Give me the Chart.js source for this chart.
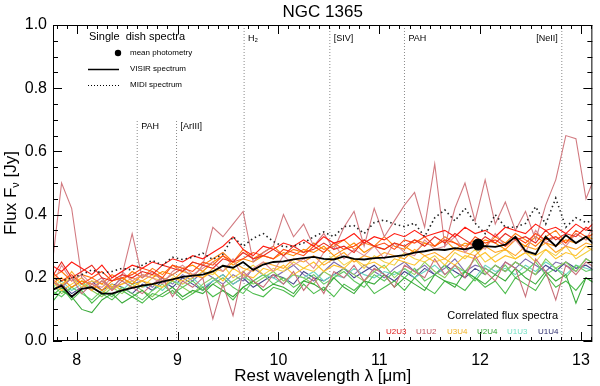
<!DOCTYPE html>
<html><head><meta charset="utf-8">
<script src="https://cdn.jsdelivr.net/npm/chart.js@4/dist/chart.umd.min.js"></script>
<style>html,body{margin:0;padding:0;background:#fff}#wrap{width:600px;height:386px}</style>
</head><body><div id="wrap"><canvas id="c" width="600" height="386"></canvas></div>
<script>
const lambda = [7.75,7.85,7.95,8.05,8.15,8.25,8.35,8.45,8.55,8.65,8.75,8.85,8.95,9.05,9.15,9.25,9.35,9.45,9.55,9.65,9.75,9.85,9.95,10.05,10.15,10.25,10.35,10.45,10.55,10.65,10.75,10.85,10.95,11.05,11.15,11.25,11.35,11.45,11.55,11.65,11.75,11.85,11.95,12.05,12.15,12.25,12.35,12.45,12.55,12.65,12.75,12.85,12.95,13.05,13.15];

const visir = [0.16,0.175,0.14,0.165,0.17,0.15,0.15,0.16,0.168,0.175,0.18,0.188,0.195,0.203,0.207,0.21,0.22,0.238,0.232,0.25,0.225,0.242,0.25,0.252,0.258,0.262,0.266,0.26,0.258,0.268,0.26,0.258,0.262,0.264,0.268,0.272,0.28,0.284,0.29,0.288,0.294,0.29,0.298,0.30,0.298,0.305,0.33,0.285,0.275,0.33,0.30,0.335,0.31,0.33,0.30];
const midi = [0.20,0.19,0.20,0.21,0.225,0.215,0.22,0.23,0.225,0.24,0.255,0.24,0.265,0.258,0.265,0.278,0.258,0.275,0.33,0.30,0.325,0.34,0.315,0.298,0.30,0.31,0.33,0.345,0.33,0.362,0.365,0.34,0.375,0.383,0.37,0.362,0.373,0.33,0.39,0.415,0.38,0.42,0.373,0.34,0.40,0.36,0.36,0.372,0.425,0.37,0.452,0.36,0.39,0.375,0.385];
const photLambda = [11.98];
const photFlux = [0.305];

const u2u3a = [0.24,0.22,0.25,0.23,0.21,0.24,0.2,0.22,0.24,0.23,0.25,0.24,0.26,0.25,0.27,0.26,0.28,0.3,0.33,0.29,0.27,0.3,0.29,0.31,0.3,0.32,0.3,0.33,0.31,0.32,0.34,0.31,0.33,0.32,0.34,0.33,0.35,0.33,0.34,0.35,0.33,0.36,0.34,0.35,0.33,0.36,0.35,0.34,0.37,0.35,0.36,0.34,0.37,0.35,0.38];
const u2u3b = [0.2,0.25,0.2,0.22,0.24,0.2,0.19,0.21,0.2,0.22,0.21,0.24,0.23,0.22,0.25,0.24,0.23,0.26,0.25,0.28,0.26,0.27,0.29,0.27,0.3,0.28,0.29,0.31,0.29,0.3,0.28,0.32,0.3,0.29,0.31,0.3,0.32,0.3,0.33,0.31,0.34,0.32,0.3,0.33,0.31,0.34,0.32,0.33,0.31,0.35,0.32,0.34,0.33,0.36,0.34];
const u2u3c = [0.22,0.19,0.21,0.18,0.2,0.22,0.19,0.2,0.21,0.23,0.22,0.2,0.24,0.23,0.22,0.25,0.24,0.27,0.25,0.26,0.28,0.27,0.26,0.29,0.28,0.27,0.3,0.28,0.31,0.29,0.3,0.32,0.3,0.31,0.29,0.32,0.31,0.33,0.3,0.32,0.31,0.29,0.33,0.31,0.32,0.3,0.33,0.31,0.34,0.32,0.33,0.31,0.35,0.33,0.34];
const u1u2a = [0.22,0.50,0.42,0.2,0.17,0.19,0.16,0.21,0.34,0.2,0.22,0.19,0.21,0.23,0.2,0.24,0.36,0.33,0.37,0.41,0.25,0.28,0.3,0.4,0.33,0.37,0.3,0.34,0.29,0.36,0.41,0.3,0.42,0.33,0.38,0.43,0.47,0.36,0.56,0.3,0.42,0.5,0.38,0.51,0.37,0.44,0.35,0.41,0.32,0.43,0.51,0.65,0.64,0.45,0.53];
const u1u2b = [0.19,0.17,0.2,0.15,0.18,0.2,0.16,0.19,0.17,0.15,0.18,0.2,0.14,0.19,0.17,0.2,0.07,0.18,0.08,0.22,0.19,0.17,0.21,0.18,0.22,0.16,0.2,0.15,0.22,0.2,0.24,0.19,0.23,0.21,0.17,0.24,0.22,0.2,0.26,0.21,0.24,0.2,0.27,0.22,0.19,0.25,0.23,0.14,0.26,0.22,0.13,0.24,0.21,0.25,0.23];
const u1u2c = [0.17,0.24,0.19,0.21,0.18,0.17,0.2,0.22,0.19,0.21,0.2,0.18,0.22,0.24,0.21,0.23,0.25,0.22,0.26,0.2,0.23,0.25,0.22,0.27,0.24,0.26,0.23,0.28,0.31,0.26,0.29,0.27,0.3,0.26,0.31,0.28,0.27,0.32,0.29,0.3,0.33,0.28,0.31,0.29,0.34,0.3,0.32,0.28,0.35,0.31,0.33,0.3,0.34,0.32,0.38];
const u3u4a = [0.18,0.2,0.17,0.19,0.18,0.16,0.19,0.2,0.18,0.21,0.2,0.22,0.21,0.23,0.24,0.22,0.25,0.27,0.24,0.26,0.25,0.27,0.26,0.28,0.27,0.29,0.28,0.3,0.27,0.29,0.31,0.28,0.3,0.29,0.31,0.3,0.28,0.31,0.3,0.32,0.29,0.31,0.3,0.32,0.31,0.29,0.32,0.3,0.33,0.31,0.3,0.32,0.31,0.33,0.32];
const u3u4b = [0.2,0.17,0.22,0.18,0.16,0.19,0.17,0.18,0.2,0.19,0.21,0.2,0.19,0.22,0.21,0.2,0.23,0.22,0.25,0.23,0.22,0.25,0.24,0.23,0.26,0.25,0.27,0.24,0.26,0.28,0.25,0.27,0.26,0.28,0.27,0.26,0.29,0.27,0.28,0.26,0.29,0.28,0.27,0.3,0.28,0.29,0.27,0.3,0.29,0.31,0.28,0.3,0.29,0.31,0.3];
const u3u4c = [0.19,0.16,0.18,0.2,0.17,0.15,0.18,0.16,0.17,0.19,0.18,0.17,0.2,0.19,0.21,0.2,0.22,0.19,0.23,0.21,0.2,0.23,0.22,0.24,0.21,0.23,0.25,0.22,0.24,0.23,0.26,0.24,0.25,0.23,0.26,0.25,0.24,0.27,0.25,0.26,0.24,0.27,0.26,0.28,0.25,0.27,0.26,0.28,0.27,0.29,0.26,0.28,0.27,0.3,0.28];
const u3u4d = [0.21,0.18,0.2,0.17,0.19,0.18,0.16,0.18,0.19,0.17,0.2,0.19,0.21,0.18,0.2,0.22,0.21,0.24,0.2,0.22,0.24,0.21,0.23,0.22,0.25,0.23,0.22,0.25,0.27,0.24,0.26,0.23,0.27,0.25,0.24,0.28,0.26,0.25,0.27,0.24,0.28,0.26,0.29,0.25,0.27,0.29,0.26,0.28,0.25,0.29,0.27,0.3,0.26,0.28,0.3];
const u3u4e = [0.2,0.22,0.19,0.21,0.2,0.18,0.21,0.19,0.22,0.2,0.23,0.21,0.24,0.22,0.25,0.24,0.26,0.28,0.25,0.29,0.26,0.28,0.3,0.27,0.29,0.28,0.31,0.29,0.3,0.32,0.29,0.31,0.3,0.33,0.3,0.29,0.32,0.31,0.3,0.33,0.31,0.3,0.32,0.3,0.33,0.31,0.34,0.32,0.3,0.33,0.35,0.31,0.34,0.32,0.35];
const u2u4a = [0.12,0.16,0.14,0.1,0.09,0.13,0.15,0.12,0.14,0.16,0.13,0.15,0.17,0.14,0.16,0.15,0.18,0.16,0.14,0.17,0.19,0.16,0.18,0.17,0.15,0.19,0.18,0.16,0.2,0.17,0.15,0.19,0.18,0.21,0.17,0.2,0.18,0.16,0.21,0.19,0.17,0.22,0.2,0.18,0.21,0.19,0.23,0.2,0.18,0.22,0.19,0.21,0.12,0.2,0.18];
const u2u4b = [0.16,0.14,0.17,0.15,0.13,0.16,0.14,0.17,0.15,0.13,0.16,0.18,0.15,0.17,0.19,0.16,0.18,0.2,0.17,0.15,0.19,0.21,0.18,0.2,0.17,0.19,0.21,0.18,0.2,0.22,0.19,0.17,0.21,0.19,0.22,0.2,0.23,0.19,0.21,0.24,0.2,0.22,0.19,0.23,0.21,0.24,0.2,0.22,0.25,0.21,0.23,0.2,0.24,0.22,0.23];
const u2u4c = [0.18,0.15,0.17,0.19,0.16,0.14,0.17,0.15,0.18,0.16,0.14,0.17,0.19,0.17,0.15,0.18,0.2,0.17,0.19,0.21,0.18,0.2,0.22,0.19,0.21,0.2,0.18,0.22,0.2,0.23,0.21,0.19,0.22,0.24,0.2,0.23,0.21,0.25,0.22,0.2,0.24,0.22,0.26,0.21,0.24,0.22,0.25,0.23,0.21,0.26,0.23,0.25,0.22,0.26,0.24];
const u2u4d = [0.14,0.17,0.13,0.16,0.12,0.15,0.13,0.16,0.14,0.12,0.15,0.14,0.16,0.13,0.15,0.17,0.14,0.16,0.13,0.17,0.15,0.14,0.17,0.16,0.14,0.18,0.15,0.17,0.14,0.18,0.16,0.19,0.15,0.17,0.19,0.16,0.2,0.17,0.15,0.19,0.18,0.16,0.2,0.17,0.19,0.15,0.2,0.18,0.16,0.21,0.17,0.19,0.16,0.2,0.18];
const u1u3a = [0.17,0.19,0.16,0.18,0.17,0.15,0.18,0.16,0.19,0.17,0.18,0.16,0.19,0.18,0.2,0.17,0.19,0.21,0.18,0.2,0.19,0.21,0.2,0.18,0.21,0.2,0.22,0.19,0.21,0.2,0.23,0.21,0.2,0.22,0.21,0.23,0.2,0.22,0.24,0.21,0.23,0.22,0.2,0.24,0.22,0.23,0.21,0.24,0.22,0.25,0.23,0.21,0.24,0.23,0.22];
const u1u4a = [0.16,0.18,0.15,0.17,0.19,0.16,0.18,0.17,0.15,0.18,0.16,0.19,0.17,0.2,0.18,0.16,0.19,0.21,0.18,0.2,0.17,0.19,0.21,0.2,0.18,0.22,0.2,0.19,0.21,0.23,0.2,0.22,0.24,0.21,0.19,0.22,0.2,0.23,0.21,0.24,0.22,0.2,0.23,0.21,0.24,0.22,0.25,0.23,0.21,0.24,0.22,0.25,0.23,0.24,0.22];
const u1u4b = [0.19,0.17,0.2,0.18,0.16,0.19,0.17,0.2,0.18,0.19,0.17,0.2,0.18,0.21,0.19,0.22,0.2,0.18,0.21,0.19,0.23,0.21,0.2,0.22,0.24,0.21,0.19,0.22,0.25,0.23,0.21,0.24,0.22,0.2,0.23,0.25,0.22,0.24,0.21,0.23,0.26,0.22,0.24,0.23,0.21,0.25,0.23,0.26,0.24,0.22,0.25,0.24,0.22,0.26,0.24];

const lineWaves = [8.6, 8.99, 9.66, 10.51, 11.25, 12.81];
const lineNames = ['PAH', '[ArIII]', 'H\u2082', '[SIV]', 'PAH', '[NeII]'];
const lineTops = [0.70, 0.70, 1.0, 1.0, 1.0, 1.0];

const xTicks = [8, 9, 10, 11, 12, 13];
const yTicks = [0.0, 0.2, 0.4, 0.6, 0.8, 1.0];
const baselineNames = ['U2U3', 'U1U2', 'U3U4', 'U2U4', 'U1U3', 'U1U4'];
const baselineColors = ['#dd1515', '#c2525c', '#f0b020', '#2fa02f', '#72e0c4', '#2e2e6e'];

const FONT = '"Liberation Sans", Arial, Helvetica, sans-serif';

function pts(vals) { return lambda.map((x, i) => ({x: x, y: vals[i]})); }
function corr(vals, color) {
  return {data: pts(vals), borderColor: color, borderWidth: 1.1, pointRadius: 0, fill: false, tension: 0};
}

const datasets = [];
datasets.push({data: photLambda.map((x, i) => ({x: x, y: photFlux[i]})), showLine: false, pointRadius: 5.5, pointBackgroundColor: '#000', pointBorderColor: '#000', borderColor: '#000'});
datasets.push({data: pts(visir), borderColor: '#000', borderWidth: 1.8, pointRadius: 0, tension: 0});
datasets.push({data: pts(midi), borderColor: '#222', borderWidth: 1.6, borderDash: [1.5, 3], pointRadius: 0, tension: 0});
[
  [u2u3a, '#ff1a10'], [u2u3b, '#e82a20'], [u2u3c, '#ff4a15'],
  [u1u2a, '#d27a80'], [u1u2b, '#c8707a'], [u1u2c, '#e08e94'],
  [u3u4a, '#ff8c00'], [u3u4e, '#ff7a10'], [u3u4b, '#ffa526'], [u3u4c, '#ffc22a'], [u3u4d, '#f2cf45'],
  [u2u4a, '#3aaa3a'], [u2u4d, '#4cbc4c'], [u2u4b, '#62c862'], [u2u4c, '#8ccf5c'],
  [u1u3a, '#6ad6c0'], [u1u4a, '#45458a'], [u1u4b, '#7e6cae']
].forEach(p => datasets.push(corr(p[0], p[1])));
lineWaves.forEach((w, i) => datasets.push({data: [{x: w, y: 0}, {x: w, y: lineTops[i]}], borderColor: '#8a8a8a', borderWidth: 1, borderDash: [1, 2], pointRadius: 0}));

const deco = {
  id: 'deco',
  afterDraw(chart) {
    const ctx = chart.ctx, a = chart.chartArea;
    const xs = chart.scales.x, ys = chart.scales.y;
    ctx.save();
    ctx.strokeStyle = '#000'; ctx.lineWidth = 1;
    ctx.strokeRect(a.left + 0.5, a.top + 0.5, a.right - a.left - 1, a.bottom - a.top - 1);
    ctx.beginPath();
    for (let k = 78; k <= 131; k++) {
      const v = k / 10;
      if (v < xs.min || v > xs.max) continue;
      const px = Math.round(xs.getPixelForValue(v)) + 0.5;
      const L = (k % 10 === 0) ? 9 : 4;
      ctx.moveTo(px, a.bottom); ctx.lineTo(px, a.bottom - L);
      ctx.moveTo(px, a.top); ctx.lineTo(px, a.top + L);
    }
    for (let k = 0; k <= 20; k++) {
      const v = k / 20;
      const py = Math.round(ys.getPixelForValue(v)) + 0.5;
      const L = (k % 4 === 0) ? 9 : 5;
      ctx.moveTo(a.left, py); ctx.lineTo(a.left + L, py);
      ctx.moveTo(a.right, py); ctx.lineTo(a.right - L, py);
    }
    ctx.stroke();

    ctx.fillStyle = '#000';
    ctx.font = '17px ' + FONT;
    ctx.textAlign = 'center'; ctx.textBaseline = 'middle';
    ctx.fillText('NGC 1365', (a.left + a.right) / 2, 12);

    ctx.font = '17px ' + FONT;
    ctx.fillText('Rest wavelength \u03BB [\u03BCm]', (a.left + a.right) / 2, 376);

    ctx.save();
    ctx.translate(11, 193); ctx.rotate(-Math.PI / 2);
    ctx.textBaseline = 'middle'; ctx.textAlign = 'left';
    const s1 = 'Flux F', s3 = ' [Jy]';
    ctx.font = '17px ' + FONT; const w1 = ctx.measureText(s1).width;
    ctx.font = '11px ' + FONT; const w2 = ctx.measureText('\u03BD').width;
    ctx.font = '17px ' + FONT; const w3 = ctx.measureText(s3).width;
    let x0 = -(w1 + w2 + w3) / 2;
    ctx.fillText(s1, x0, 0);
    ctx.font = '11px ' + FONT; ctx.fillText('\u03BD', x0 + w1, 5);
    ctx.font = '17px ' + FONT; ctx.fillText(s3, x0 + w1 + w2, 0);
    ctx.restore();

    ctx.font = '9px ' + FONT; ctx.textBaseline = 'middle';
    lineWaves.forEach((w, i) => {
      const px = xs.getPixelForValue(w);
      const py = lineTops[i] < 1 ? ys.getPixelForValue(lineTops[i]) + 7 : a.top + 14;
      if (i === lineWaves.length - 1) { ctx.textAlign = 'right'; ctx.fillText(lineNames[i], px - 4, py); }
      else { ctx.textAlign = 'left'; ctx.fillText(lineNames[i], px + 4, py); }
    });

    ctx.textAlign = 'left';
    ctx.font = '11px ' + FONT;
    ctx.fillText('Single  dish spectra', 89, 37);
    ctx.beginPath(); ctx.arc(118, 53, 3.2, 0, Math.PI * 2); ctx.fill();
    ctx.font = '8px ' + FONT;
    ctx.fillText('mean photometry', 130, 53);
    ctx.beginPath(); ctx.moveTo(88, 69.5); ctx.lineTo(119, 69.5); ctx.lineWidth = 1.5; ctx.stroke();
    ctx.fillText('VISIR spectrum', 130, 69);
    ctx.beginPath(); ctx.setLineDash([1, 2]); ctx.lineWidth = 1; ctx.moveTo(88, 85.5); ctx.lineTo(119, 85.5); ctx.stroke();
    ctx.setLineDash([]);
    ctx.fillText('MIDI spectrum', 130, 85);

    ctx.font = '11px ' + FONT; ctx.textAlign = 'right';
    ctx.fillText('Correlated flux spectra', 558, 316);
    ctx.font = '8px ' + FONT; ctx.textAlign = 'left';
    const bx = [386, 416, 447, 477, 507, 538];
    baselineNames.forEach((n, i) => { ctx.fillStyle = baselineColors[i]; ctx.fillText(n, bx[i], 332); });
    ctx.restore();
  }
};

new Chart(document.getElementById('c'), {
  type: 'line',
  data: {datasets: datasets},
  options: {
    responsive: false, animation: false, events: [],
    layout: {padding: {left: 0, right: 2, top: 25, bottom: 0}},
    plugins: {legend: {display: false}, tooltip: {enabled: false}, title: {display: false}},
    scales: {
      x: {
        type: 'linear', min: 7.765, max: 13.113,
        afterFit: s => { s.height = 45; },
        afterBuildTicks: s => { s.ticks = xTicks.map(v => ({value: v})); },
        grid: {display: false, drawTicks: false},
        border: {display: false},
        ticks: {padding: 10, color: '#000', font: {size: 16, family: FONT}, callback: v => String(v), maxRotation: 0, autoSkip: false}
      },
      y: {
        type: 'linear', min: 0, max: 1,
        afterFit: s => { s.width = 53; },
        afterBuildTicks: s => { s.ticks = yTicks.map(v => ({value: v})); },
        grid: {display: false, drawTicks: false},
        border: {display: false},
        ticks: {padding: 6, color: '#000', font: {size: 16, family: FONT}, callback: v => Number(v).toFixed(1)}
      }
    }
  },
  plugins: [deco]
});
</script>
</body></html>
